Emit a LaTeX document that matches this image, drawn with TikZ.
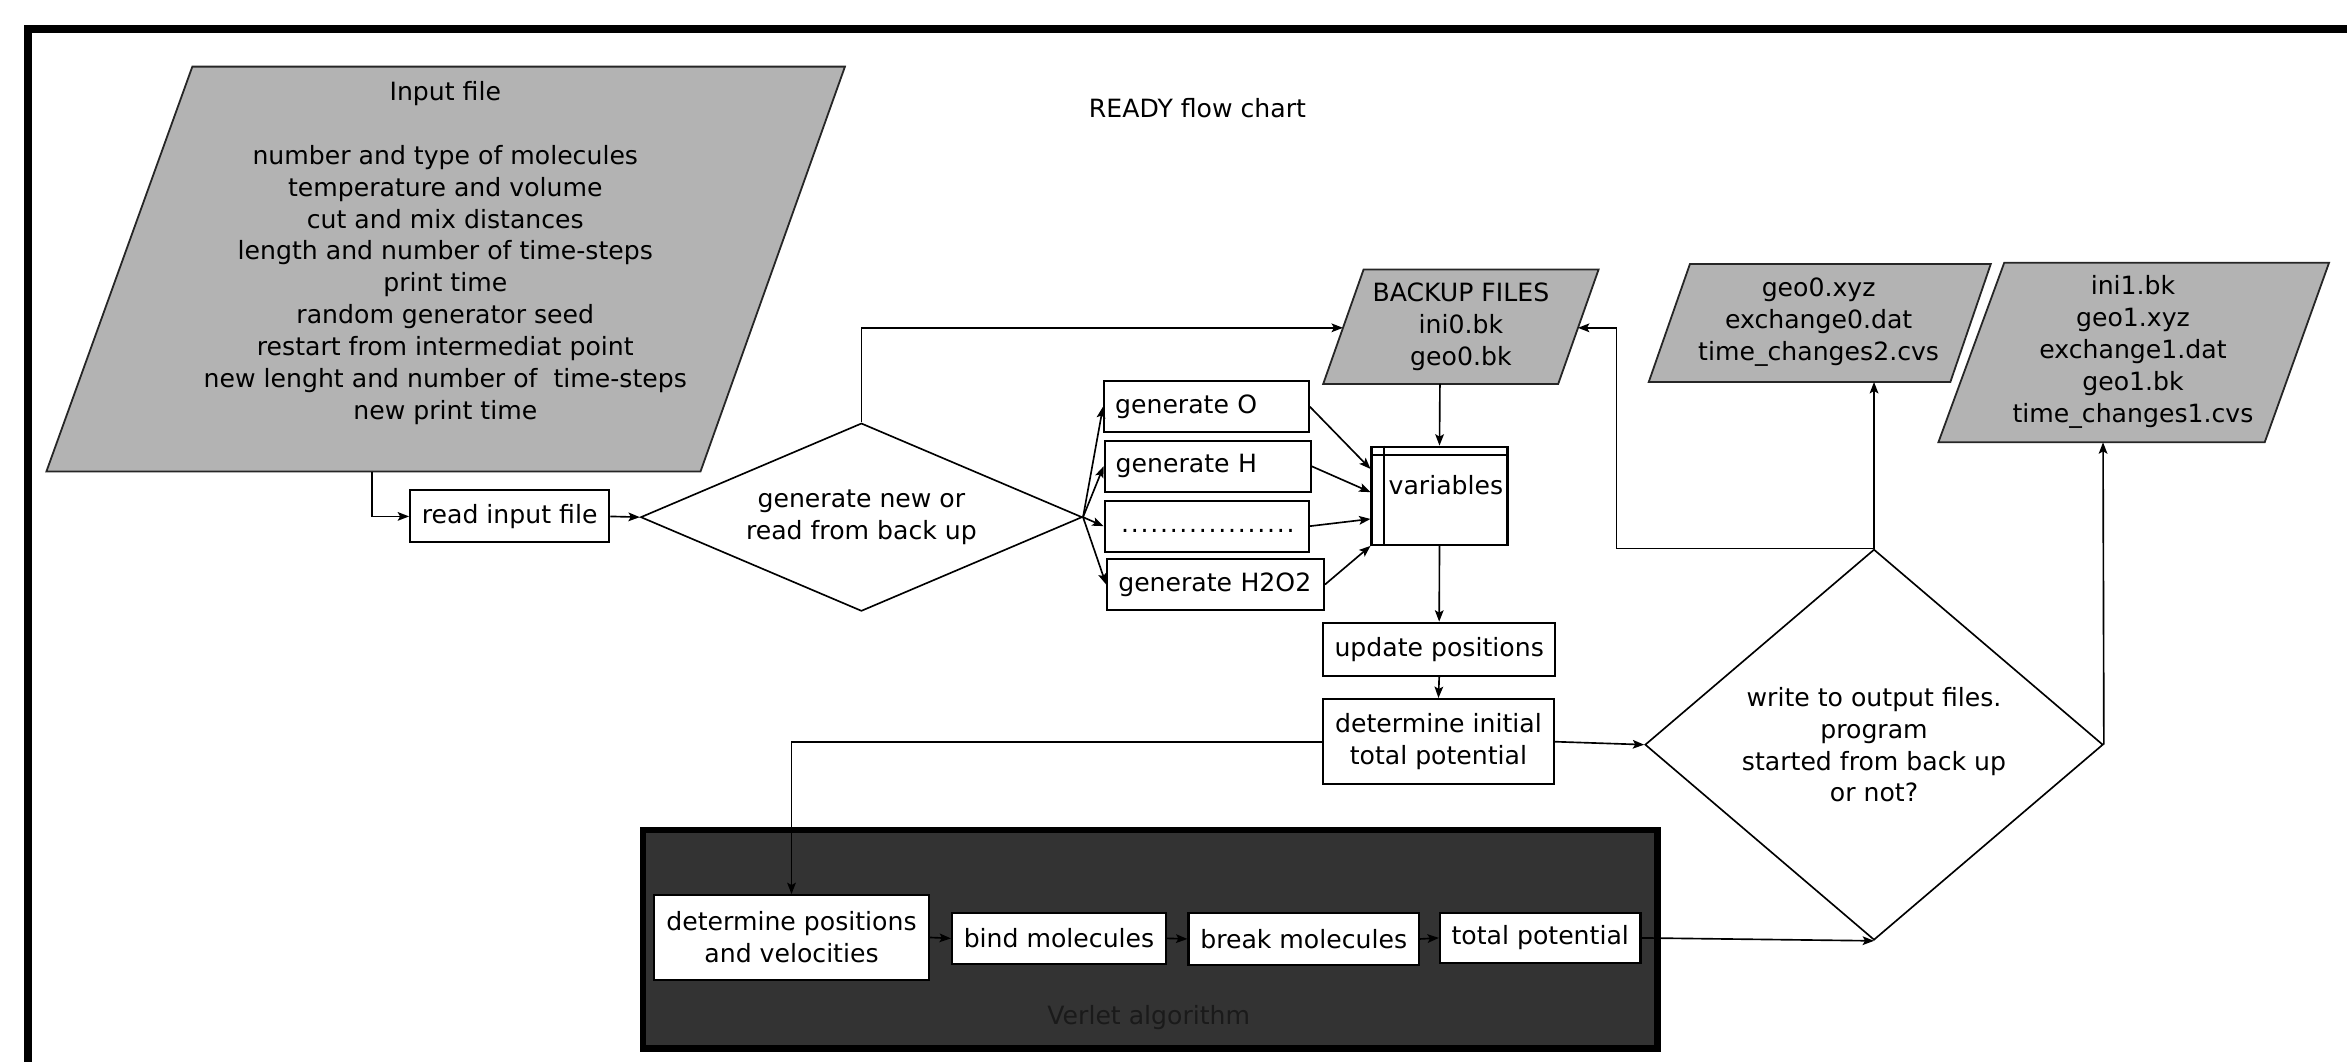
\documentclass[tikz,border=0pt]{standalone}
\usepackage{fontspec}
\setmainfont{DejaVu Sans}
\usetikzlibrary{arrows.meta,shapes.geometric,calc}
\definecolor{paragray}{HTML}{B3B3B3}
\definecolor{verletgray}{HTML}{333333}
\definecolor{verlettext}{HTML}{1A1A1A}
\begin{document}
\begin{tikzpicture}[x=0.5pt,y=-0.5pt,
  font=\fontsize{8.4}{10.65}\selectfont,
  arr/.style={draw=black, line width=0.55pt, -{Stealth[length=3.8pt,width=2.9pt,inset=0.8pt]}},
  para/.style={fill=paragray, draw=black!85, line width=0.6pt},
  box/.style={draw=black, fill=white, line width=0.7pt, inner sep=0pt, align=center},
  genbox/.style={draw=black, fill=white, line width=0.7pt, inner xsep=3.7pt, inner ysep=0pt, align=left, minimum height=17pt},
  decision/.style={diamond, draw=black, line width=0.55pt, inner sep=0pt, align=center},
  txt/.style={inner sep=0pt, align=center},
  outerframe/.style={draw=black, line width=2.7pt}
]
\fill[white] (0,0) rectangle (1568,709);
\useasboundingbox (0,0) rectangle (1568,709);
\clip (0,0) rectangle (1568,709);
\draw[outerframe] (1590,19.5) -- (19,19.5) -- (19,730);

% input file
\draw[para] (128.5,44.5) -- (564.5,44.5) -- (468,315) -- (31,315) -- cycle;
\node[txt] (inputtxt) at (297.5,169) {Input file\\[10.65pt]number and type of molecules\\temperature and volume\\cut and mix distances\\length and number of time-steps\\print time\\random generator seed\\restart from intermediat point\\new lenght and number of\ \ time-steps\\new print time};
\coordinate (inBot) at (248.5,315);

\node[txt] (title) at (800,72) {READY flow chart};

\node[box, minimum width=66.5pt, minimum height=17.35pt] (read) at (340.5,345) {read input file};

\node[decision, shape aspect=2.35, minimum width=147.5pt, minimum height=62.8pt] (gen) at (575.5,345.5) {generate new or\\read from back up};

\node[genbox, text width=61pt] (genO) at (806,271.7) {generate O};
\node[genbox, text width=61.4pt] (genH) at (806.8,311.5) {generate H};
\node[genbox, text width=60.8pt] (gendots) at (806.2,351.5) {\vphantom{gH}\hspace{1.5pt}\hbox to 58.5pt{\leaders\hbox to 3.25pt{\hss.\hss}\hfill}};
\node[genbox, text width=65pt] (genHOO) at (812.1,390.5) {generate H2O2};

% variables
\node[box, minimum width=45.4pt, minimum height=32.8pt] (var) at (961.7,331.2) {};
\draw[line width=0.8pt] ([yshift=-3.1pt]var.north west) -- ([yshift=-3.1pt]var.north east);
\draw[line width=0.8pt] ([xshift=4.45pt]var.north west) -- ([xshift=4.45pt]var.south west);
\node[txt] (vartxt) at (966,324) {variables};

% backup files
\draw[para] (911,180) -- (1068,180) -- (1041,256.5) -- (884,256.5) -- cycle;
\node[txt] (bktxt) at (976,218.5) {BACKUP FILES\\ini0.bk\\geo0.bk};
\coordinate (bkL) at (897.2,219);
\coordinate (bkR) at (1054.2,219);
\coordinate (bkB) at (962,256.5);

% geo0
\draw[para] (1129,176.4) -- (1330,176.4) -- (1303,255.2) -- (1101.5,255.2) -- cycle;
\node[txt] (geotxt) at (1215,215) {geo0.xyz\\exchange0.dat\\time\_changes2.cvs};
\coordinate (geoB) at (1252,255.2);

% ini1
\draw[para] (1339,175.5) -- (1556,175.5) -- (1513,295.5) -- (1295,295.5) -- cycle;
\node[txt] (initxt) at (1425,235) {ini1.bk\\geo1.xyz\\exchange1.dat\\geo1.bk\\time\_changes1.cvs};
\coordinate (iniB) at (1405,295.5);

\node[box, minimum width=77.5pt, minimum height=17.8pt] (upd) at (961.5,433.8) {update positions};
\node[box, minimum width=77pt, minimum height=28.5pt] (dinit) at (961,495.5) {determine initial\\total potential};

\node[decision, shape aspect=1.17, minimum width=153pt, minimum height=130.5pt] (write) at (1252,497.5) {write to output files.\\program\\started from back up\\or not?};

% Verlet
\node[draw=black, line width=2.2pt, fill=verletgray, minimum width=338.85pt, minimum height=72.95pt, inner sep=0pt] (verlet) at (768.55,627.55) {};
\node[txt, text=verlettext] (verlettxt) at (767.5,680) {Verlet algorithm};
\node[box, minimum width=91.8pt, minimum height=28.3pt] (detpos) at (528.8,626.3) {determine positions\\and velocities};
\node[box, minimum width=71.5pt, minimum height=17.15pt] (bind) at (707.5,626.9) {bind molecules};
\node[box, minimum width=77pt, minimum height=17.35pt] (brk) at (871,627.3) {break molecules};
\node[box, minimum width=67pt, minimum height=16.9pt] (tot) at (1029,626.6) {total potential};

\coordinate (bend) at (1080,219);

% connectors
\draw[arr] (inBot) |- (read.west);
\draw[arr] (read.east) -- (gen.west);
\draw[arr] (gen.north) |- (bkL);
\foreach \b in {genO,genH,gendots,genHOO} \draw[arr] (gen.east) -- (\b.west);
\draw[arr] (genO.east) -- ([yshift=-7.8pt]var.north west);
\draw[arr] (genH.east) -- ([yshift=-15.55pt]var.north west);
\draw[arr] (gendots.east) -- ([yshift=-24.5pt]var.north west);
\draw[arr] (genHOO.east) -- (var.south west);
\draw[arr] (bkB) -- (var.north);
\draw[arr] (var.south) -- (upd.north);
\draw[arr] (upd.south) -- (dinit.north);
\draw[arr] (dinit.west) -| (detpos.north);
\draw[arr] (dinit.east) -- (write.west);
\draw[arr] (detpos.east) -- (bind.west);
\draw[arr] (bind.east) -- (brk.west);
\draw[arr] (brk.east) -- (tot.west);
\draw[arr] (tot.east) -- (write.south);
\draw[arr] (write.north) -- (geoB);
\draw[arr] (write.north) -| (bend) -- (bkR);
\draw[arr] (write.east) -- (iniB);
\end{tikzpicture}
\end{document}
